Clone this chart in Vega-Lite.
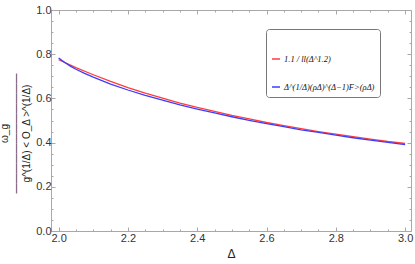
{
  "$schema": "https://vega.github.io/schema/vega-lite/v6.json",
  "width": 360,
  "height": 221,
  "autosize": "none",
  "padding": {"left": 51, "top": 10, "right": 4, "bottom": 33},
  "config": {
    "view": {"stroke": "#a8a8a8", "strokeWidth": 1},
    "font": "Liberation Sans",
    "axis": {
      "domain": false,
      "grid": false,
      "tickColor": "#a8a8a8",
      "labelColor": "#333333",
      "labelFont": "Liberation Sans",
      "labelFontSize": 11,
      "titleColor": "#222222",
      "titleFont": "Liberation Sans",
      "titleFontWeight": "normal"
    }
  },
  "datasets": {
    "curves": [
      {"d": 2.00, "v": 0.775, "s": "1.1 / ll(Δ^1.2)"},
      {"d": 2.01, "v": 0.768, "s": "1.1 / ll(Δ^1.2)"},
      {"d": 2.02, "v": 0.761, "s": "1.1 / ll(Δ^1.2)"},
      {"d": 2.05, "v": 0.739, "s": "1.1 / ll(Δ^1.2)"},
      {"d": 2.10, "v": 0.707, "s": "1.1 / ll(Δ^1.2)"},
      {"d": 2.15, "v": 0.677, "s": "1.1 / ll(Δ^1.2)"},
      {"d": 2.20, "v": 0.649, "s": "1.1 / ll(Δ^1.2)"},
      {"d": 2.25, "v": 0.624, "s": "1.1 / ll(Δ^1.2)"},
      {"d": 2.30, "v": 0.601, "s": "1.1 / ll(Δ^1.2)"},
      {"d": 2.35, "v": 0.579, "s": "1.1 / ll(Δ^1.2)"},
      {"d": 2.40, "v": 0.559, "s": "1.1 / ll(Δ^1.2)"},
      {"d": 2.45, "v": 0.541, "s": "1.1 / ll(Δ^1.2)"},
      {"d": 2.50, "v": 0.523, "s": "1.1 / ll(Δ^1.2)"},
      {"d": 2.55, "v": 0.507, "s": "1.1 / ll(Δ^1.2)"},
      {"d": 2.60, "v": 0.491, "s": "1.1 / ll(Δ^1.2)"},
      {"d": 2.65, "v": 0.477, "s": "1.1 / ll(Δ^1.2)"},
      {"d": 2.70, "v": 0.463, "s": "1.1 / ll(Δ^1.2)"},
      {"d": 2.75, "v": 0.450, "s": "1.1 / ll(Δ^1.2)"},
      {"d": 2.80, "v": 0.438, "s": "1.1 / ll(Δ^1.2)"},
      {"d": 2.85, "v": 0.427, "s": "1.1 / ll(Δ^1.2)"},
      {"d": 2.90, "v": 0.416, "s": "1.1 / ll(Δ^1.2)"},
      {"d": 2.95, "v": 0.405, "s": "1.1 / ll(Δ^1.2)"},
      {"d": 3.00, "v": 0.396, "s": "1.1 / ll(Δ^1.2)"},
      {"d": 2.00, "v": 0.783, "s": "Δ^(1/Δ)(ρΔ)^(Δ−1)F>(ρΔ)"},
      {"d": 2.01, "v": 0.771, "s": "Δ^(1/Δ)(ρΔ)^(Δ−1)F>(ρΔ)"},
      {"d": 2.02, "v": 0.760, "s": "Δ^(1/Δ)(ρΔ)^(Δ−1)F>(ρΔ)"},
      {"d": 2.035, "v": 0.745, "s": "Δ^(1/Δ)(ρΔ)^(Δ−1)F>(ρΔ)"},
      {"d": 2.05, "v": 0.732, "s": "Δ^(1/Δ)(ρΔ)^(Δ−1)F>(ρΔ)"},
      {"d": 2.075, "v": 0.713, "s": "Δ^(1/Δ)(ρΔ)^(Δ−1)F>(ρΔ)"},
      {"d": 2.10, "v": 0.696, "s": "Δ^(1/Δ)(ρΔ)^(Δ−1)F>(ρΔ)"},
      {"d": 2.15, "v": 0.665, "s": "Δ^(1/Δ)(ρΔ)^(Δ−1)F>(ρΔ)"},
      {"d": 2.20, "v": 0.638, "s": "Δ^(1/Δ)(ρΔ)^(Δ−1)F>(ρΔ)"},
      {"d": 2.25, "v": 0.614, "s": "Δ^(1/Δ)(ρΔ)^(Δ−1)F>(ρΔ)"},
      {"d": 2.30, "v": 0.592, "s": "Δ^(1/Δ)(ρΔ)^(Δ−1)F>(ρΔ)"},
      {"d": 2.35, "v": 0.571, "s": "Δ^(1/Δ)(ρΔ)^(Δ−1)F>(ρΔ)"},
      {"d": 2.40, "v": 0.552, "s": "Δ^(1/Δ)(ρΔ)^(Δ−1)F>(ρΔ)"},
      {"d": 2.45, "v": 0.534, "s": "Δ^(1/Δ)(ρΔ)^(Δ−1)F>(ρΔ)"},
      {"d": 2.50, "v": 0.517, "s": "Δ^(1/Δ)(ρΔ)^(Δ−1)F>(ρΔ)"},
      {"d": 2.55, "v": 0.501, "s": "Δ^(1/Δ)(ρΔ)^(Δ−1)F>(ρΔ)"},
      {"d": 2.60, "v": 0.486, "s": "Δ^(1/Δ)(ρΔ)^(Δ−1)F>(ρΔ)"},
      {"d": 2.65, "v": 0.472, "s": "Δ^(1/Δ)(ρΔ)^(Δ−1)F>(ρΔ)"},
      {"d": 2.70, "v": 0.458, "s": "Δ^(1/Δ)(ρΔ)^(Δ−1)F>(ρΔ)"},
      {"d": 2.75, "v": 0.446, "s": "Δ^(1/Δ)(ρΔ)^(Δ−1)F>(ρΔ)"},
      {"d": 2.80, "v": 0.434, "s": "Δ^(1/Δ)(ρΔ)^(Δ−1)F>(ρΔ)"},
      {"d": 2.85, "v": 0.422, "s": "Δ^(1/Δ)(ρΔ)^(Δ−1)F>(ρΔ)"},
      {"d": 2.90, "v": 0.411, "s": "Δ^(1/Δ)(ρΔ)^(Δ−1)F>(ρΔ)"},
      {"d": 2.95, "v": 0.401, "s": "Δ^(1/Δ)(ρΔ)^(Δ−1)F>(ρΔ)"},
      {"d": 3.00, "v": 0.391, "s": "Δ^(1/Δ)(ρΔ)^(Δ−1)F>(ρΔ)"}
    ]
  },
  "layer": [
    {
      "data": {"name": "curves"},
      "mark": {"type": "line", "strokeWidth": 1.3, "clip": true},
      "encoding": {
        "x": {
          "field": "d", "type": "quantitative",
          "scale": {"domain": [1.978, 3.017], "nice": false, "zero": false},
          "axis": {
            "orient": "bottom",
            "title": "Δ",
            "titleFontSize": 12,
            "titlePadding": 3,
            "values": [2.0, 2.05, 2.1, 2.15, 2.2, 2.25, 2.3, 2.35, 2.4, 2.45, 2.5, 2.55, 2.6, 2.65, 2.7, 2.75, 2.8, 2.85, 2.9, 2.95, 3.0],
            "labelExpr": "abs(datum.value*5 - round(datum.value*5)) < 0.001 ? format(datum.value, '.1f') : ''",
            "tickSize": {"condition": {"test": "abs(datum.value*5 - round(datum.value*5)) < 0.001", "value": -4}, "value": -2},
            "labelPadding": 5,
            "labelOverlap": false
          }
        },
        "y": {
          "field": "v", "type": "quantitative",
          "scale": {"domain": [0, 1], "nice": false, "zero": false},
          "axis": {
            "orient": "left",
            "title": ["ω_g", "————————————", "g^(1/Δ) < O_Δ >^(1/Δ)"],
            "titleFontSize": 10,
            "titleLineHeight": 11,
            "titlePadding": 4,
            "titleY": 123,
            "values": [0, 0.05, 0.1, 0.15, 0.2, 0.25, 0.3, 0.35, 0.4, 0.45, 0.5, 0.55, 0.6, 0.65, 0.7, 0.75, 0.8, 0.85, 0.9, 0.95, 1.0],
            "labelExpr": "abs(datum.value*5 - round(datum.value*5)) < 0.001 ? format(datum.value, '.1f') : ''",
            "tickSize": {"condition": {"test": "abs(datum.value*5 - round(datum.value*5)) < 0.001", "value": -4}, "value": -2},
            "labelPadding": 4,
            "labelOverlap": false
          }
        },
        "color": {
          "field": "s", "type": "nominal",
          "scale": {"domain": ["1.1 / ll(Δ^1.2)", "Δ^(1/Δ)(ρΔ)^(Δ−1)F>(ρΔ)"], "range": ["#ff3c3c", "#3c3cff"]},
          "legend": {
            "orient": "none",
            "legendX": 215,
            "legendY": 19,
            "title": " ",
            "titleFontSize": 12,
            "titlePadding": 8,
            "strokeColor": "#777777",
            "cornerRadius": 3,
            "padding": 5,
            "symbolType": "stroke",
            "symbolSize": 64,
            "symbolStrokeWidth": 1.5,
            "symbolOffset": 0,
            "labelOffset": 3,
            "labelFont": "Liberation Serif",
            "labelFontStyle": "italic",
            "labelFontSize": 8.5,
            "labelColor": "#111111",
            "labelLimit": 200,
            "rowPadding": 18
          }
        }
      }
    },
    {
      "data": {"name": "curves"},
      "mark": {"type": "point", "opacity": 0},
      "encoding": {
        "x": {
          "field": "d", "type": "quantitative",
          "scale": {"domain": [1.978, 3.017], "nice": false, "zero": false},
          "axis": {
            "orient": "top", "title": null, "labels": false,
            "values": [2.0, 2.05, 2.1, 2.15, 2.2, 2.25, 2.3, 2.35, 2.4, 2.45, 2.5, 2.55, 2.6, 2.65, 2.7, 2.75, 2.8, 2.85, 2.9, 2.95, 3.0],
            "tickSize": {"condition": {"test": "abs(datum.value*5 - round(datum.value*5)) < 0.001", "value": -4}, "value": -2}
          }
        },
        "y": {
          "field": "v", "type": "quantitative",
          "scale": {"domain": [0, 1], "nice": false, "zero": false},
          "axis": {
            "orient": "right", "title": null, "labels": false,
            "values": [0, 0.05, 0.1, 0.15, 0.2, 0.25, 0.3, 0.35, 0.4, 0.45, 0.5, 0.55, 0.6, 0.65, 0.7, 0.75, 0.8, 0.85, 0.9, 0.95, 1.0],
            "tickSize": {"condition": {"test": "abs(datum.value*5 - round(datum.value*5)) < 0.001", "value": -4}, "value": -2}
          }
        }
      }
    }
  ],
  "resolve": {"scale": {"x": "independent", "y": "independent"}}
}
